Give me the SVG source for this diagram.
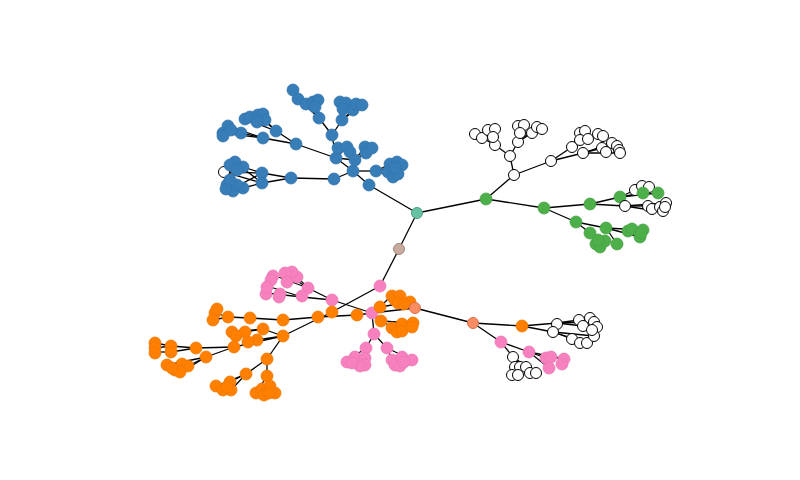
<svg xmlns="http://www.w3.org/2000/svg" width="800" height="480" viewBox="0 0 800 480">
<style>
.e line{stroke:#000;stroke-width:1.3}
.b{fill:#377eb8;stroke:#3374ad;stroke-width:0.8;r:6}
.g{fill:#4daf4a;stroke:#47a244;stroke-width:0.8;r:6}
.o{fill:#ff7f00;stroke:#f07700;stroke-width:0.8;r:6}
.p{fill:#f781bf;stroke:#e878b2;stroke-width:0.8;r:6}
.w{fill:#fff;stroke:#000;stroke-width:1;r:5.5}
.rt{fill:#66c2a5;stroke:#4e9e82;stroke-width:1;r:5.5}
.br{fill:#c9ab9e;stroke:#a08a7f;stroke-width:1;r:5.5}
.sa{fill:#fc8d62;stroke:#d9704c;stroke-width:1;r:5.5}
</style>
<rect width="800" height="480" fill="#fff"/>
<g id="connectors" class="e">
<line x1="417" y1="213" x2="369" y2="185"/><line x1="417" y1="213" x2="486" y2="199"/><line x1="417" y1="213" x2="399" y2="249"/>
<line x1="369" y1="185" x2="353" y2="171"/><line x1="353" y1="171" x2="334" y2="179"/><line x1="353" y1="171" x2="376" y2="171"/><line x1="353" y1="171" x2="336" y2="158"/>
<line x1="336" y1="158" x2="332" y2="135"/><line x1="332" y1="135" x2="319" y2="118"/><line x1="332" y1="135" x2="342" y2="120"/>
<line x1="336" y1="158" x2="296" y2="144"/><line x1="296" y1="144" x2="276" y2="131"/><line x1="296" y1="144" x2="263" y2="138"/>
<line x1="334" y1="179" x2="291" y2="178"/><line x1="291" y1="178" x2="262" y2="173"/><line x1="291" y1="178" x2="262" y2="183"/>
<line x1="319" y1="118" x2="293" y2="90"/><line x1="319" y1="118" x2="298" y2="99"/><line x1="319" y1="118" x2="306" y2="104"/><line x1="319" y1="118" x2="313" y2="102"/><line x1="319" y1="118" x2="318" y2="100"/>
<line x1="342" y1="120" x2="340" y2="102"/><line x1="342" y1="120" x2="353" y2="110"/><line x1="342" y1="120" x2="362" y2="105"/>
<line x1="336" y1="158" x2="338" y2="148"/><line x1="336" y1="158" x2="347" y2="147"/><line x1="336" y1="158" x2="355" y2="160"/><line x1="355" y1="160" x2="365" y2="147"/><line x1="355" y1="160" x2="372" y2="148"/>
<line x1="376" y1="171" x2="390" y2="164"/><line x1="376" y1="171" x2="402" y2="165"/><line x1="376" y1="171" x2="393" y2="177"/>
<line x1="276" y1="131" x2="245" y2="119"/><line x1="276" y1="131" x2="258" y2="115"/><line x1="276" y1="131" x2="265" y2="120"/>
<line x1="263" y1="138" x2="241" y2="133"/><line x1="263" y1="138" x2="223" y2="133"/><line x1="263" y1="138" x2="228" y2="126"/>
<line x1="262" y1="173" x2="243" y2="167"/><line x1="262" y1="173" x2="224" y2="172"/><line x1="262" y1="173" x2="230" y2="190"/><line x1="262" y1="183" x2="224" y2="172"/><line x1="262" y1="183" x2="243" y2="188"/><line x1="262" y1="183" x2="235" y2="162"/>
<line x1="486" y1="199" x2="514" y2="175"/><line x1="514" y1="175" x2="510" y2="156"/><line x1="510" y1="156" x2="495" y2="145"/><line x1="510" y1="156" x2="518" y2="142"/>
<line x1="495" y1="145" x2="475" y2="134"/><line x1="495" y1="145" x2="488" y2="130"/><line x1="495" y1="145" x2="495" y2="129"/>
<line x1="518" y1="142" x2="518" y2="126"/><line x1="518" y1="142" x2="532" y2="133"/><line x1="518" y1="142" x2="537" y2="127"/>
<line x1="514" y1="175" x2="551" y2="161"/><line x1="551" y1="161" x2="572" y2="147"/><line x1="551" y1="161" x2="583" y2="153"/>
<line x1="572" y1="147" x2="580" y2="133"/><line x1="572" y1="147" x2="588" y2="139"/><line x1="572" y1="147" x2="598" y2="134"/>
<line x1="583" y1="153" x2="602" y2="148"/><line x1="583" y1="153" x2="612" y2="143"/><line x1="583" y1="153" x2="620" y2="153"/>
<line x1="486" y1="199" x2="544" y2="208"/><line x1="544" y1="208" x2="590" y2="204"/><line x1="590" y1="204" x2="620" y2="197"/><line x1="590" y1="204" x2="625" y2="206"/>
<line x1="620" y1="197" x2="643" y2="193"/><line x1="620" y1="197" x2="635" y2="190"/><line x1="620" y1="197" x2="658" y2="193"/>
<line x1="625" y1="206" x2="648" y2="206"/><line x1="625" y1="206" x2="663" y2="212"/><line x1="625" y1="206" x2="666" y2="203"/>
<line x1="544" y1="208" x2="576" y2="222"/><line x1="576" y1="222" x2="590" y2="233"/><line x1="576" y1="222" x2="606" y2="228"/>
<line x1="590" y1="233" x2="598" y2="245"/><line x1="590" y1="233" x2="605" y2="241"/><line x1="606" y1="228" x2="643" y2="230"/><line x1="606" y1="228" x2="640" y2="237"/><line x1="606" y1="228" x2="617" y2="244"/>
<line x1="399" y1="249" x2="380" y2="286"/><line x1="380" y1="286" x2="332" y2="312"/><line x1="332" y1="312" x2="283" y2="336"/>
<line x1="283" y1="336" x2="267" y2="359"/><line x1="267" y1="359" x2="246" y2="374"/><line x1="267" y1="359" x2="267" y2="376"/>
<line x1="246" y1="374" x2="230" y2="382"/><line x1="246" y1="374" x2="216" y2="386"/><line x1="246" y1="374" x2="231" y2="390"/>
<line x1="267" y1="376" x2="256" y2="393"/><line x1="267" y1="376" x2="275" y2="393"/><line x1="267" y1="376" x2="270" y2="386"/>
<line x1="283" y1="336" x2="234" y2="347"/><line x1="234" y1="347" x2="196" y2="348"/><line x1="196" y1="348" x2="171" y2="346"/><line x1="196" y1="348" x2="171" y2="352"/>
<line x1="171" y1="346" x2="155" y2="343"/><line x1="171" y1="352" x2="155" y2="352"/><line x1="171" y1="346" x2="155" y2="348"/>
<line x1="234" y1="347" x2="206" y2="357"/><line x1="206" y1="357" x2="167" y2="365"/><line x1="206" y1="357" x2="180" y2="373"/><line x1="206" y1="357" x2="188" y2="366"/>
<line x1="283" y1="336" x2="263" y2="329"/><line x1="263" y1="329" x2="245" y2="332"/><line x1="263" y1="329" x2="232" y2="332"/><line x1="283" y1="336" x2="257" y2="340"/>
<line x1="318" y1="317" x2="283" y2="320"/><line x1="283" y1="320" x2="250" y2="318"/><line x1="250" y1="318" x2="228" y2="317"/><line x1="228" y1="317" x2="215" y2="313"/><line x1="228" y1="317" x2="213" y2="320"/>
<line x1="318" y1="317" x2="357" y2="315"/><line x1="357" y1="315" x2="372" y2="313"/>
<line x1="332" y1="300" x2="372" y2="313"/><line x1="332" y1="300" x2="308" y2="288"/><line x1="332" y1="300" x2="302" y2="297"/>
<line x1="308" y1="288" x2="297" y2="277"/><line x1="308" y1="288" x2="273" y2="275"/><line x1="308" y1="288" x2="285" y2="273"/>
<line x1="302" y1="297" x2="266" y2="293"/><line x1="302" y1="297" x2="267" y2="286"/>
<line x1="372" y1="313" x2="415" y2="308"/><line x1="372" y1="313" x2="380" y2="307"/><line x1="372" y1="313" x2="381" y2="321"/><line x1="372" y1="313" x2="374" y2="334"/>
<line x1="380" y1="307" x2="392" y2="295"/><line x1="380" y1="307" x2="410" y2="302"/><line x1="381" y1="321" x2="402" y2="332"/><line x1="381" y1="321" x2="413" y2="323"/>
<line x1="374" y1="334" x2="366" y2="348"/><line x1="374" y1="334" x2="387" y2="348"/>
<line x1="366" y1="348" x2="347" y2="361"/><line x1="366" y1="348" x2="365" y2="365"/><line x1="387" y1="348" x2="392" y2="360"/><line x1="387" y1="348" x2="412" y2="360"/>
<line x1="415" y1="308" x2="473" y2="323"/><line x1="473" y1="323" x2="522" y2="326"/><line x1="473" y1="323" x2="501" y2="342"/>
<line x1="522" y1="326" x2="557" y2="323"/><line x1="522" y1="326" x2="553" y2="332"/>
<line x1="557" y1="323" x2="579" y2="320"/><line x1="557" y1="323" x2="594" y2="322"/><line x1="557" y1="323" x2="583" y2="326"/>
<line x1="553" y1="332" x2="572" y2="339"/><line x1="553" y1="332" x2="588" y2="343"/><line x1="553" y1="332" x2="594" y2="336"/>
<line x1="501" y1="342" x2="513" y2="357"/><line x1="513" y1="357" x2="512" y2="375"/><line x1="513" y1="357" x2="530" y2="373"/><line x1="513" y1="357" x2="536" y2="373"/><line x1="513" y1="357" x2="520" y2="367"/>
<line x1="501" y1="342" x2="529" y2="352"/><line x1="529" y1="352" x2="546" y2="358"/><line x1="529" y1="352" x2="549" y2="368"/><line x1="529" y1="352" x2="564" y2="359"/>
</g>
<g id="root"><circle class="rt" cx="417" cy="213"/></g>
<g id="brown"><circle class="br" cx="399" cy="249"/></g>
<g id="wx"><circle class="w" cx="224" cy="172"/></g>
<g id="b0"><circle class="b" cx="369" cy="185"/></g><g id="b1"><circle class="b" cx="353" cy="171"/></g><g id="b2"><circle class="b" cx="334" cy="179"/></g><g id="b3"><circle class="b" cx="376" cy="171"/></g><g id="b4"><circle class="b" cx="336" cy="158"/></g><g id="b5"><circle class="b" cx="332" cy="135"/></g><g id="b6"><circle class="b" cx="319" cy="118"/></g><g id="b7"><circle class="b" cx="342" cy="120"/></g><g id="b8"><circle class="b" cx="296" cy="144"/></g><g id="b9"><circle class="b" cx="276" cy="131"/></g><g id="b10"><circle class="b" cx="263" cy="138"/></g><g id="b11"><circle class="b" cx="291" cy="178"/></g><g id="b12"><circle class="b" cx="262" cy="173"/></g><g id="b13"><circle class="b" cx="262" cy="183"/></g>
<g id="b6a"><circle class="b" cx="293" cy="90"/></g><g id="b6b"><circle class="b" cx="298" cy="99"/></g><g id="b6c"><circle class="b" cx="306" cy="104"/></g><g id="b6d"><circle class="b" cx="313" cy="102"/></g><g id="b6e"><circle class="b" cx="318" cy="100"/></g><g id="b6f"><circle class="b" cx="315" cy="107"/></g>
<g id="b7a"><circle class="b" cx="340" cy="102"/></g><g id="b7b"><circle class="b" cx="346" cy="103"/></g><g id="b7c"><circle class="b" cx="343" cy="109"/></g><g id="b7d"><circle class="b" cx="353" cy="110"/></g><g id="b7e"><circle class="b" cx="356" cy="104"/></g><g id="b7f"><circle class="b" cx="362" cy="105"/></g>
<g id="b4a"><circle class="b" cx="338" cy="148"/></g><g id="b4b"><circle class="b" cx="347" cy="147"/></g><g id="b4c"><circle class="b" cx="350" cy="152"/></g><g id="b4d"><circle class="b" cx="355" cy="160"/></g><g id="b4e"><circle class="b" cx="365" cy="147"/></g><g id="b4f"><circle class="b" cx="372" cy="148"/></g><g id="b4g"><circle class="b" cx="366" cy="153"/></g>
<g id="b3a"><circle class="b" cx="390" cy="164"/></g><g id="b3b"><circle class="b" cx="397" cy="162"/></g><g id="b3c"><circle class="b" cx="402" cy="165"/></g><g id="b3d"><circle class="b" cx="388" cy="172"/></g><g id="b3e"><circle class="b" cx="393" cy="177"/></g><g id="b3f"><circle class="b" cx="398" cy="174"/></g><g id="b3g"><circle class="b" cx="395" cy="168"/></g>
<g id="b9a"><circle class="b" cx="245" cy="119"/></g><g id="b9b"><circle class="b" cx="250" cy="117"/></g><g id="b9c"><circle class="b" cx="258" cy="115"/></g><g id="b9d"><circle class="b" cx="263" cy="114"/></g><g id="b9e"><circle class="b" cx="265" cy="120"/></g><g id="b9f"><circle class="b" cx="257" cy="122"/></g>
<g id="b10a"><circle class="b" cx="241" cy="133"/></g><g id="b10b"><circle class="b" cx="223" cy="133"/></g><g id="b10c"><circle class="b" cx="228" cy="126"/></g><g id="b10d"><circle class="b" cx="231" cy="130"/></g><g id="b10e"><circle class="b" cx="223" cy="136"/></g>
<g id="b12a"><circle class="b" cx="243" cy="167"/></g><g id="b12b"><circle class="b" cx="235" cy="162"/></g><g id="b12c"><circle class="b" cx="230" cy="165"/></g><g id="b12d"><circle class="b" cx="237" cy="170"/></g>
<g id="b13a"><circle class="b" cx="227" cy="185"/></g><g id="b13b"><circle class="b" cx="233" cy="191"/></g><g id="b13c"><circle class="b" cx="243" cy="188"/></g><g id="b13d"><circle class="b" cx="237" cy="185"/></g><g id="b13e"><circle class="b" cx="226" cy="189"/></g><g id="b13f"><circle class="b" cx="230" cy="180"/></g>
<g id="g0"><circle class="g" cx="486" cy="199"/></g><g id="g1"><circle class="g" cx="544" cy="208"/></g><g id="g2"><circle class="g" cx="590" cy="204"/></g><g id="g3"><circle class="g" cx="620" cy="197"/></g><g id="g4"><circle class="g" cx="576" cy="222"/></g><g id="g5"><circle class="g" cx="590" cy="233"/></g><g id="g6"><circle class="g" cx="606" cy="228"/></g>
<g id="w0"><circle class="w" cx="514" cy="175"/></g><g id="w1"><circle class="w" cx="510" cy="156"/></g><g id="w2"><circle class="w" cx="495" cy="145"/></g><g id="w3"><circle class="w" cx="518" cy="142"/></g><g id="w4"><circle class="w" cx="551" cy="161"/></g><g id="w5"><circle class="w" cx="572" cy="147"/></g><g id="w6"><circle class="w" cx="583" cy="153"/></g><g id="w7"><circle class="w" cx="625" cy="206"/></g>
<g id="w2a"><circle class="w" cx="475" cy="134"/></g><g id="w2b"><circle class="w" cx="482" cy="138"/></g><g id="w2c"><circle class="w" cx="488" cy="130"/></g><g id="w2d"><circle class="w" cx="495" cy="129"/></g><g id="w2e"><circle class="w" cx="493" cy="137"/></g>
<g id="w3a"><circle class="w" cx="518" cy="126"/></g><g id="w3b"><circle class="w" cx="524" cy="125"/></g><g id="w3c"><circle class="w" cx="520" cy="133"/></g><g id="w3d"><circle class="w" cx="532" cy="133"/></g><g id="w3e"><circle class="w" cx="537" cy="127"/></g><g id="w3f"><circle class="w" cx="542" cy="129"/></g>
<g id="w5a"><circle class="w" cx="580" cy="133"/></g><g id="w5b"><circle class="w" cx="585" cy="131"/></g><g id="w5c"><circle class="w" cx="580" cy="140"/></g><g id="w5d"><circle class="w" cx="588" cy="139"/></g><g id="w5e"><circle class="w" cx="598" cy="134"/></g><g id="w5f"><circle class="w" cx="603" cy="136"/></g>
<g id="w6a"><circle class="w" cx="602" cy="148"/></g><g id="w6b"><circle class="w" cx="612" cy="143"/></g><g id="w6c"><circle class="w" cx="617" cy="146"/></g><g id="w6d"><circle class="w" cx="619" cy="150"/></g><g id="w6e"><circle class="w" cx="620" cy="153"/></g><g id="w6f"><circle class="w" cx="606" cy="152"/></g>
<g id="w8a"><circle class="w" cx="635" cy="190"/></g><g id="w8b"><circle class="w" cx="642" cy="186"/></g><g id="w8c"><circle class="w" cx="649" cy="187"/></g>
<g id="g3a"><circle class="g" cx="643" cy="193"/></g><g id="g3b"><circle class="g" cx="658" cy="193"/></g>
<g id="w7a"><circle class="w" cx="648" cy="206"/></g><g id="w7b"><circle class="w" cx="652" cy="209"/></g><g id="w7c"><circle class="w" cx="660" cy="207"/></g><g id="w7d"><circle class="w" cx="666" cy="203"/></g><g id="w7e"><circle class="w" cx="663" cy="211"/></g><g id="w7f"><circle class="w" cx="665" cy="207"/></g>
<g id="ga"><circle class="g" cx="596" cy="244"/></g><g id="gb"><circle class="g" cx="600" cy="247"/></g><g id="gc"><circle class="g" cx="605" cy="241"/></g><g id="gj"><circle class="g" cx="598" cy="240"/></g><g id="gd"><circle class="g" cx="617" cy="244"/></g><g id="ge"><circle class="g" cx="628" cy="231"/></g><g id="gf"><circle class="g" cx="632" cy="229"/></g><g id="gg"><circle class="g" cx="640" cy="237"/></g><g id="gh"><circle class="g" cx="643" cy="230"/></g><g id="gi"><circle class="g" cx="641" cy="233"/></g>
<g id="p0"><circle class="p" cx="380" cy="286"/></g><g id="p3"><circle class="p" cx="332" cy="300"/></g><g id="p4"><circle class="p" cx="308" cy="288"/></g><g id="p3b"><circle class="p" cx="302" cy="296"/></g>
<g id="p4a"><circle class="p" cx="297" cy="277"/></g><g id="p4b"><circle class="p" cx="292" cy="272"/></g><g id="p4c"><circle class="p" cx="285" cy="273"/></g><g id="p4d"><circle class="p" cx="273" cy="276"/></g><g id="p4e"><circle class="p" cx="287" cy="282"/></g><g id="p4f"><circle class="p" cx="271" cy="280"/></g>
<g id="p3c"><circle class="p" cx="280" cy="294"/></g><g id="p3d"><circle class="p" cx="266" cy="294"/></g><g id="p3e"><circle class="p" cx="267" cy="287"/></g><g id="p3f"><circle class="p" cx="279" cy="297"/></g>
<g id="o0"><circle class="o" cx="332" cy="312"/></g><g id="oh"><circle class="o" cx="283" cy="336"/></g><g id="o1"><circle class="o" cx="318" cy="317"/></g><g id="o2"><circle class="o" cx="283" cy="320"/></g><g id="o3"><circle class="o" cx="357" cy="315"/></g><g id="o4"><circle class="o" cx="250" cy="318"/></g><g id="o5"><circle class="o" cx="228" cy="317"/></g>
<g id="o5a"><circle class="o" cx="215" cy="313"/></g><g id="o5b"><circle class="o" cx="213" cy="320"/></g><g id="o5c"><circle class="o" cx="217" cy="309"/></g>
<g id="oc"><circle class="o" cx="263" cy="329"/></g><g id="oca"><circle class="o" cx="245" cy="332"/></g><g id="ocb"><circle class="o" cx="232" cy="332"/></g><g id="occ"><circle class="o" cx="257" cy="340"/></g><g id="ocd"><circle class="o" cx="248" cy="342"/></g><g id="oce"><circle class="o" cx="236" cy="336"/></g>
<g id="o6"><circle class="o" cx="267" cy="359"/></g><g id="o7"><circle class="o" cx="246" cy="374"/></g><g id="o8"><circle class="o" cx="267" cy="376"/></g>
<g id="o7a"><circle class="o" cx="230" cy="382"/></g><g id="o7b"><circle class="o" cx="216" cy="386"/></g><g id="o7c"><circle class="o" cx="223" cy="390"/></g><g id="o7d"><circle class="o" cx="231" cy="390"/></g><g id="o7e"><circle class="o" cx="227" cy="387"/></g>
<g id="o8a"><circle class="o" cx="256" cy="393"/></g><g id="o8b"><circle class="o" cx="262" cy="389"/></g><g id="o8c"><circle class="o" cx="270" cy="386"/></g><g id="o8d"><circle class="o" cx="275" cy="393"/></g><g id="o8e"><circle class="o" cx="264" cy="395"/></g><g id="o8f"><circle class="o" cx="269" cy="393"/></g>
<g id="o9"><circle class="o" cx="234" cy="347"/></g><g id="o10"><circle class="o" cx="196" cy="348"/></g><g id="o11"><circle class="o" cx="171" cy="346"/></g><g id="o11b"><circle class="o" cx="171" cy="352"/></g>
<g id="o11c"><circle class="o" cx="155" cy="343"/></g><g id="o11d"><circle class="o" cx="155" cy="348"/></g><g id="o11e"><circle class="o" cx="155" cy="353"/></g>
<g id="o12"><circle class="o" cx="206" cy="357"/></g><g id="o12a"><circle class="o" cx="167" cy="365"/></g><g id="o12b"><circle class="o" cx="175" cy="370"/></g><g id="o12c"><circle class="o" cx="182" cy="364"/></g><g id="o12d"><circle class="o" cx="188" cy="366"/></g><g id="o12e"><circle class="o" cx="180" cy="372"/></g><g id="o12f"><circle class="o" cx="172" cy="368"/></g>
<g id="p2"><circle class="p" cx="372" cy="313"/></g>
<g id="o13"><circle class="o" cx="380" cy="307"/></g><g id="o13a"><circle class="o" cx="392" cy="296"/></g><g id="o13b"><circle class="o" cx="395" cy="300"/></g><g id="o13c"><circle class="o" cx="400" cy="296"/></g><g id="o13d"><circle class="o" cx="398" cy="303"/></g><g id="o13e"><circle class="o" cx="410" cy="302"/></g><g id="o13f"><circle class="o" cx="404" cy="304"/></g>
<g id="o14"><circle class="o" cx="381" cy="321"/></g><g id="o14a"><circle class="o" cx="392" cy="328"/></g><g id="o14b"><circle class="o" cx="397" cy="332"/></g><g id="o14c"><circle class="o" cx="402" cy="324"/></g><g id="o14d"><circle class="o" cx="402" cy="331"/></g><g id="o14e"><circle class="o" cx="413" cy="323"/></g><g id="o14f"><circle class="o" cx="412" cy="327"/></g>
<g id="s1"><circle class="sa" cx="415" cy="308"/></g>
<g id="p5"><circle class="p" cx="374" cy="334"/></g><g id="p6"><circle class="p" cx="366" cy="348"/></g><g id="p7"><circle class="p" cx="387" cy="348"/></g>
<g id="p6a"><circle class="p" cx="347" cy="362"/></g><g id="p6b"><circle class="p" cx="355" cy="357"/></g><g id="p6c"><circle class="p" cx="365" cy="358"/></g><g id="p6d"><circle class="p" cx="365" cy="365"/></g><g id="p6e"><circle class="p" cx="360" cy="366"/></g><g id="p6f"><circle class="p" cx="352" cy="363"/></g>
<g id="p7a"><circle class="p" cx="392" cy="360"/></g><g id="p7b"><circle class="p" cx="395" cy="365"/></g><g id="p7c"><circle class="p" cx="402" cy="357"/></g><g id="p7d"><circle class="p" cx="412" cy="360"/></g><g id="p7e"><circle class="p" cx="400" cy="366"/></g><g id="p7f"><circle class="p" cx="404" cy="362"/></g>
<g id="s2"><circle class="sa" cx="473" cy="323"/></g><g id="o15"><circle class="o" cx="522" cy="326"/></g>
<g id="wa"><circle class="w" cx="557" cy="324"/></g><g id="wb"><circle class="w" cx="553" cy="332"/></g>
<g id="waa"><circle class="w" cx="579" cy="320"/></g><g id="wab"><circle class="w" cx="590" cy="318"/></g><g id="wac"><circle class="w" cx="594" cy="322"/></g><g id="wad"><circle class="w" cx="597" cy="327"/></g><g id="wae"><circle class="w" cx="583" cy="326"/></g>
<g id="wba"><circle class="w" cx="572" cy="339"/></g><g id="wbb"><circle class="w" cx="580" cy="343"/></g><g id="wbc"><circle class="w" cx="587" cy="343"/></g><g id="wbd"><circle class="w" cx="594" cy="336"/></g><g id="wbe"><circle class="w" cx="592" cy="330"/></g>
<g id="p8"><circle class="p" cx="501" cy="342"/></g><g id="wc"><circle class="w" cx="513" cy="357"/></g>
<g id="wca"><circle class="w" cx="515" cy="367"/></g><g id="wcb"><circle class="w" cx="520" cy="367"/></g><g id="wcc"><circle class="w" cx="526" cy="367"/></g><g id="wcd"><circle class="w" cx="512" cy="375"/></g><g id="wce"><circle class="w" cx="518" cy="375"/></g><g id="wcf"><circle class="w" cx="530" cy="373"/></g><g id="wcg"><circle class="w" cx="536" cy="373"/></g>
<g id="p9"><circle class="p" cx="529" cy="352"/></g><g id="p9a"><circle class="p" cx="546" cy="358"/></g><g id="p9b"><circle class="p" cx="551" cy="357"/></g><g id="p9c"><circle class="p" cx="549" cy="368"/></g><g id="p9d"><circle class="p" cx="564" cy="359"/></g><g id="p9e"><circle class="p" cx="562" cy="364"/></g>
</svg>
